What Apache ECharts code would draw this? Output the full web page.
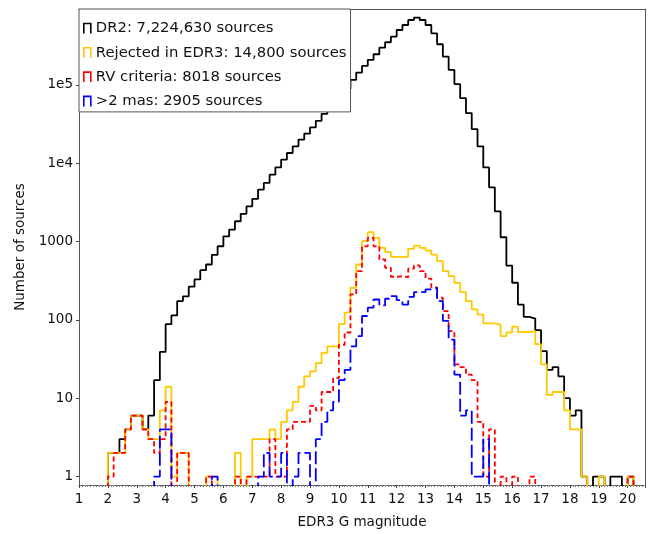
<!DOCTYPE html>
<html>
<head>
<meta charset="utf-8">
<script src="https://cdn.jsdelivr.net/npm/echarts@6/dist/echarts.min.js"></script>
<style>html,body{margin:0;padding:0;background:#fff}#c{width:660px;height:534px}</style>
</head>
<body>
<div id="c"></div>
<script>
// Histogram bins: left edges from 1.0 in steps of 0.2 (98 bins up to 20.6)
const binStart = 1.0;
const binWidth = 0.2;
const seriesNames = ['DR2: 7,224,630 sources', 'Rejected in EDR3: 14,800 sources', 'RV criteria: 8018 sources', '>2 mas: 2905 sources'];
const dr2 = [
0,0,0,0,0, 2,2,3,4,6, 6,4,6,17,39, 88,114,174,200,265,
328,431,509,677,871, 1167,1423,1815,2256,2818, 3500,4595,5600,7140,8840,
11090,13500,16400,19950,23800, 28600,34800,42700,48000,57300,
70200,88900,116000,143500,174600, 208000,246000,298000,350000,412000,
502000,581000,673000,720000,673000, 581000,455000,330000,229000,155000,
102000,67700,43600,27300,16400, 8840,4920,2430,1135,494,
298,157,109,104,74, 40,23,25,19,10, 6,7,1,0,1, 1,0,1,1,0, 1,0,0];
const rejected = [
0,0,0,0,0, 2,2,2,4,6, 6,4,3,3,7, 14,1,2,2,0, 0,0,1,1,0, 0,0,2,0,1,
3,3,3,4,3, 5,7,9,14,19, 22,28,38,46,46, 88,124,257,509,1010,
1315,1114,831,731,638, 638,638,807,889,829, 768,682,561,419,361,
297,226,174,136,117, 90,90,87,62,69, 82,70,70,72,49, 27,11,12,12,7,
4,4,1,0,0, 1,0,0,0,0, 1,0,0];
const rvCriteria = [
0,0,0,0,0, 1,2,2,4,6, 6,4,3,2,3, 9,0,2,2,0, 0,0,1,0,0, 0,0,1,0,1,
1,1,1,3,1, 1,4,5,5,5, 8,7,12,12,18, 48,69,211,418,870,
1115,870,590,463,355, 360,350,450,495,418, 337,260,192,129,72,
27,25,20,17,5, 1,4,0,1,0, 1,0,0,1,0, 0,0,0,0,0,
0,0,0,0,0, 0,0,0,0,0, 1,0,0];
const gt2mas = [
0,0,0,0,0, 0,0,0,0,0, 0,0,0,1,4, 4,0,0,0,0, 0,0,0,1,0, 0,0,0,0,0,
0,1,2,1,1, 2,0,1,2,2, 0,3,5,7,9, 17,23,46,62,112,
143,182,153,186,201, 179,157,197,226,226, 245,257,174,97,56,
20,6,7,1,1, 3,0,0,0,0, 0,0,0,0,0, 0,0,0,0,0,
0,0,0,0,0, 0,0,0,0,0, 0,0,0];
const xTicks = [1,2,3,4,5,6,7,8,9,10,11,12,13,14,15,16,17,18,19,20];
const yTickLabels = {0:'1',1:'10',2:'100',3:'1000',4:'1e4',5:'1e5'};

const FLOOR = 0.1; // zero counts drop below the axis minimum (clipped)
function toSteps(counts){
  const pts = [];
  for (let i = 0; i < counts.length; i++) {
    pts.push([+(binStart + binWidth*i).toFixed(1), counts[i] > 0 ? counts[i] : FLOOR]);
  }
  pts.push([+(binStart + binWidth*counts.length).toFixed(1), FLOOR]);
  return pts;
}
const colors = ['#000000', '#FFC800', '#FF0000', '#0000FF'];
const dashes = ['solid', 'solid', [5,3], [13,4]];
const datasets = [dr2, rejected, rvCriteria, gt2mas];
const FONT = 'DejaVu Sans';
const YMIN = 0.78, YMAX = 930000, XMIN = 1, XMAX = 20.6;

const chart = echarts.init(document.getElementById('c'), null, {renderer:'canvas'});
chart.setOption({
  animation: false,
  backgroundColor: '#fff',
  grid: {left: 79, right: 15, top: 9, bottom: 48},
  legend: {
    orient: 'vertical', left: 79, top: 9,
    padding: [11, 4, 2, 4], itemGap: 7.3,
    itemWidth: 7, itemHeight: 10,
    backgroundColor: '#fff', borderColor: '#555', borderWidth: 1,
    textStyle: {fontFamily: FONT, fontSize: 14.8, color: '#111', lineHeight: 17},
    selectedMode: false,
    data: seriesNames.map((n, i) => ({
      name: n,
      icon: 'path://M0,10L0,0L7,0L7,10',
      itemStyle: {color: 'rgba(0,0,0,0)', borderColor: colors[i], borderWidth: 1.6}
    }))
  },
  xAxis: [{
    type: 'value', min: XMIN, max: XMAX, interval: 1, position: 'bottom',
    name: 'EDR3 G magnitude', nameLocation: 'middle', nameGap: 30,
    nameTextStyle: {fontFamily: FONT, fontSize: 13.5, color: '#111'},
    axisLine: {show: true, lineStyle: {color: '#444', type: 'dotted', width: 1}},
    axisTick: {show: true, length: 3, lineStyle: {color: '#444'}},
    minorTick: {show: true, splitNumber: 10, length: 2, lineStyle: {color: '#777'}},
    axisLabel: {fontFamily: FONT, fontSize: 13.5, color: '#111', margin: 7, showMaxLabel: false,
      formatter: v => xTicks.indexOf(Math.round(v)) >= 0 && Math.abs(v - Math.round(v)) < 1e-6 ? String(Math.round(v)) : ''},
    splitLine: {show: false}
  }, {
    type: 'value', min: XMIN, max: XMAX, position: 'top',
    axisLine: {show: true, lineStyle: {color: '#555', width: 1}},
    axisTick: {show: false}, axisLabel: {show: false}, splitLine: {show: false}
  }],
  yAxis: [{
    type: 'log', logBase: 10, min: YMIN, max: YMAX, position: 'left',
    name: 'Number of sources', nameLocation: 'middle', nameGap: 51, nameRotate: 90,
    nameTextStyle: {fontFamily: FONT, fontSize: 13.5, color: '#111'},
    axisLine: {show: true, lineStyle: {color: '#555', width: 1}},
    axisTick: {show: true, length: 3, lineStyle: {color: '#444'}},
    axisLabel: {fontFamily: FONT, fontSize: 13.5, color: '#111', margin: 6,
      showMinLabel: false, showMaxLabel: false,
      formatter: v => { const e = Math.log10(v); const r = Math.round(e); return Math.abs(e - r) < 1e-6 && yTickLabels[r] !== undefined ? yTickLabels[r] : ''; }},
    splitLine: {show: false}
  }, {
    type: 'log', logBase: 10, min: YMIN, max: YMAX, position: 'right',
    axisLine: {show: true, lineStyle: {color: '#555', width: 1}},
    axisTick: {show: false}, axisLabel: {show: false}, splitLine: {show: false}
  }],
  series: datasets.map((d, i) => ({
    name: seriesNames[i], type: 'line', step: 'end', showSymbol: false, symbol: 'none',
    clip: true, silent: true, xAxisIndex: 0, yAxisIndex: 0,
    lineStyle: {color: colors[i], width: 1.8, type: dashes[i]},
    itemStyle: {color: colors[i]},
    data: toSteps(d)
  }))
});
</script>
</body>
</html>
